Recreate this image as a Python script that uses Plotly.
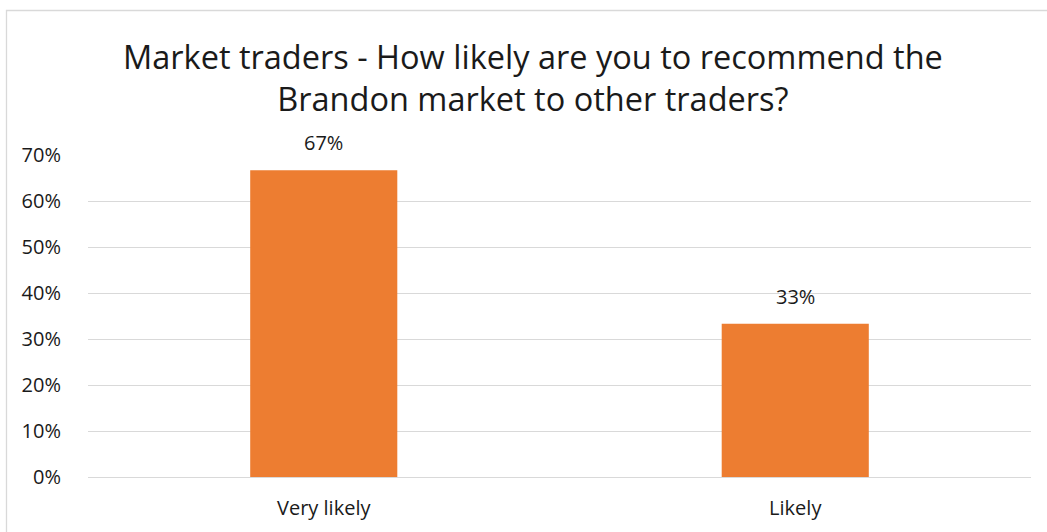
import plotly.graph_objects as go

# Survey answers and their shares of respondents
categories = ["Very likely", "Likely"]
shares = [2 / 3, 1 / 3]
y_ticks = [0, 0.1, 0.2, 0.3, 0.4, 0.5, 0.6, 0.7]
y_tick_labels = ["0%", "10%", "20%", "30%", "40%", "50%", "60%", "70%"]
title_text = "Market traders - How likely are you to recommend the<br>Brandon market to other traders?"

W, H = 1047, 532
L, R, T, B = 88, 16, 155, 55
plot_w = W - L - R
plot_h = H - T - B

font_family = "Open Sans"
text_color = "#1a1a1a"
grid_color = "#d9d9d9"
label_size = 20

fig = go.Figure(
    go.Bar(
        x=categories,
        y=shares,
        marker=dict(color="#ED7D31", line=dict(width=0)),
        width=0.312,
        hoverinfo="skip",
    )
)

# Value labels above each bar
for cat, val in zip(categories, shares):
    fig.add_annotation(
        x=cat, y=val, text=f"{val:.0%}", showarrow=False,
        yanchor="bottom", yshift=12,
        font=dict(family=font_family, size=label_size, color=text_color),
    )

# Two-line chart title
fig.add_annotation(
    text=title_text, showarrow=False,
    xref="paper", yref="paper",
    x=(533 - L) / plot_w, y=(H - B - 77) / plot_h,
    xanchor="center", yanchor="middle", align="center",
    font=dict(family=font_family, size=32.5, color=text_color),
)

# Light frame around the whole chart area
fig.add_shape(
    type="rect", xref="paper", yref="paper",
    x0=(6.5 - L) / plot_w, x1=(W + 10 - L) / plot_w,
    y0=(H - B - (H + 10)) / plot_h, y1=(H - B - 10.5) / plot_h,
    line=dict(color=grid_color, width=1.3), fillcolor="rgba(0,0,0,0)",
    layer="below",
)

fig.update_layout(
    width=W, height=H,
    margin=dict(l=L, r=R, t=T, b=B, pad=0),
    paper_bgcolor="white", plot_bgcolor="white",
    showlegend=False,
    xaxis=dict(
        showgrid=False, showline=False, zeroline=False,
        ticks="outside", ticklen=13, tickcolor="rgba(0,0,0,0)",
        tickfont=dict(family=font_family, size=label_size, color=text_color),
        fixedrange=True,
    ),
    yaxis=dict(
        range=[0, 0.7], tickvals=y_ticks, ticktext=y_tick_labels,
        showgrid=True, gridcolor=grid_color, gridwidth=1.3,
        zeroline=True, zerolinecolor=grid_color, zerolinewidth=1.3,
        showline=False,
        ticks="outside", ticklen=22, tickcolor="rgba(0,0,0,0)",
        tickfont=dict(family=font_family, size=label_size, color=text_color),
        fixedrange=True,
    ),
)

fig.write_html("out.html")
